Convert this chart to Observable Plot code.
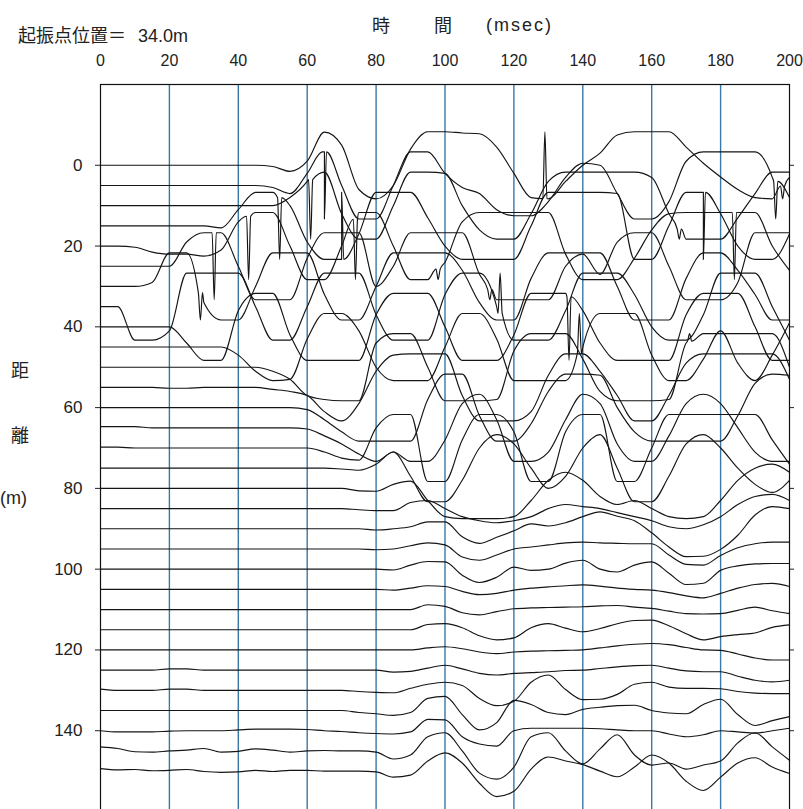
<!DOCTYPE html>
<html><head><meta charset="utf-8">
<script src="https://cdn.jsdelivr.net/npm/d3@7"></script>
<script src="https://cdn.jsdelivr.net/npm/@observablehq/plot@0.6"></script>
<style>
html,body{margin:0;padding:0;background:#fff;overflow:hidden}
#wrap{position:relative;width:803px;height:809px;overflow:hidden;background:#fff}
#wrap svg{position:absolute;left:0;top:0}
.lbl{position:absolute;font-family:"Noto Sans CJK JP",sans-serif;color:#222;white-space:pre;line-height:1;font-size:18px}
.num{font-family:"Liberation Sans","DejaVu Sans",sans-serif}
</style></head><body><div id="wrap"></div>
<script>
// ---- data ----
const xTicks = [0,20,40,60,80,100,120,140,160,180,200];
const gridTimes = [20,40,60,80,100,120,140,160,180];
const yTicks = [0,20,40,60,80,100,120,140];
const offsets = [0,5,10,15,20,25,30,35,40,45,50,55,60,65,70,75,80,85,90,95,100,105,110,115,120,125,130,135,140,145,150];
const sampleTimes = [0,5,10,15,20,25,30,35,40,45,50,55,60,65,70,75,80,85,90,95,100,105,110,115,120,125,130,135,140,145,150,155,160,165,170,175,180,185,190,195,200];

// trace displacements (m, + = downward), one value per sample time
const trace000 = [0,0,0,0,0,0,0,0,0,0, 0.3,1.5,-1,-8.2,-5,6,8.3,5,-4,-8.3, -8.3,-8,-7.8,-4.5,2,8,8.3,4,0,-3, -7.5,-8.3,-8.3,-8.3,-4.5,-0.5,2.9,6,8,8.3,3];
const trace005 = [0,0,0,0,0,0,0,0,0,0, 0.5,2,-3,-8.3,0,8.3,8.3,0,-8.3,-8.3, -3,0.5,2,6,7.5,7.5,4,-2,-5.5,-5, 2,8.3,8.3,4,-6,-8.3,-8.3,-8.3,-8.3,-2,3];
const trace010 = [0,0,0,0,0,0,0,0,0,0, 0,-2,-6,-8.3,2,8.3,8.3,0,-8.3,-8.3, -8,0,6,8.3,8.3,2,-6,-8.3,-8.3,-8.3, -8.3,-8.3,-7,2,8.3,8.3,8.3,3,-3,-8.3,-8.3];
const trace015 = [0,0,0,0,0,0,0,0.5,-4,-8.3, -8.3,-5,4,8.3,8.3,2,-8.3,-8.3,-8.3,-2, 5,8.3,8.3,8.3,8.3,0,-8.3,-8.3,-8.3,-8.3, -8,8.3,8.3,0,-8.3,-8.3,-3,5,8.3,8.3,2];
const trace020 = [0,0,0.3,1.5,2,2,2.5,1,-6,-8.3, -8.3,0,8.3,8.3,0,-8.3,-8.3,0,8.3,8.3, 4,-6,-8.3,-8.3,-8.3,-8.3,-8.3,2,8.3,8.3, 8.3,3,-4,-8,-8.3,-8.3,-8.3,-8.3,-8.3,0,6];
const trace025 = [0,0,0,0,0,-6,-8.3,-8.3,0,8.3, 8.3,8.3,-2,-8.3,-8.3,-8.3,5,0,-8.3,-8.3, -8.3,-8.3,2,8.3,8.3,8.3,8.3,0,-3,2, -6,-8.3,-8.3,0,8.3,8.3,8.3,4,-8.3,-8.3,-8.3];
const trace030 = [0,0,0,-1,-8.3,-8.3,4,8.3,8.3,0, -8.3,-8.3,-8.3,2,8.3,8.3,0,-8.3,-8.3,-8.3, -8.3,-4,4,8.3,8.3,-2,-8.3,-8.3,-8.3,-8.3, 0,8.3,8.3,8.3,-2,-8.3,-8.3,-4,2,8.3,8.3];
const trace035 = [0,0,8.3,8.3,6,-8.3,-8.3,-8.3,-8.3,0, 8.3,8.3,0,-8.3,-8.3,-8.3,2,8.3,8.3,8.3, -3,-8.3,-8.3,0,8.3,8.3,8.3,1,-8.3,-8.3, -8.3,-3,5,8.3,8.3,2,-8.3,-8.3,-8.3,0,8.3];
const trace040 = [0,0,0,0,0,4,8.3,8.3,-4,-8.3, -8.3,2,8.3,8.3,8.3,8.3,-3,-8.3,-8.3,-8.3, 0,8.3,8.3,8.3,2,-8.3,-8.3,-8.3,-4,4, 8.3,8.3,8.3,8.3,-3,-8.3,-8.3,-8.3,0,8.3,8.3];
const trace045 = [0,0,0,0,0,0,0,0,2,6, 8.3,8,-2,-8.3,-8.3,-4,5,8.3,8.3,8.3, 0,-8.3,-8.3,-2,8.3,8.3,8.3,8.3,0,-8.3, -8.3,-8.3,2,8.3,8.3,3,-4,4,8.3,2,-6];
const trace050 = [0,0,0,0,0,0,0,0,0,0, 1,3,7,8,8.3,8.3,-6,-8.3,-8.3,0, 8.3,8.3,8.3,8,-4,-8.3,-8.3,-8.3,-2,6, 8.3,8.3,8.3,8,-6,-8.3,-8.3,-8.3,-8.3,-8.3,0];
const trace055 = [0,0,0,0,0.2,0.2,0,0,0,0, 0.5,1,2,6,8.3,4,-4,-8,-8.3,-8.3, -8.3,2,8.3,8.3,8.3,6,-3,-8.3,-8.3,-4, 2,8.3,8.3,2,-6,-8.3,-8.3,-8.3,-8.3,-8.3,-2];
const trace060 = [0,0,0,0,0,0,0,0,0,0, 0,0,0.5,3,6,8.3,8.3,8.3,8.3,-2, -8.3,-8.3,2,8.3,8.3,4,-4,-8.3,-8.3,-8, 0,6,8.3,8.3,8.3,8.3,8.3,2,-6,-8.3,-8];
const trace065 = [-0.3,-0.3,-0.3,0,0,0,0,0,0,0, 0,0,0.3,2,4,6.5,8.3,6,8.3,8.3, 3,-6,-8.3,-2,8.3,8.3,6,-2,-8.3,-6, 4,8.3,8.3,2,-6,-8.3,-6,0,6,8.3,8.3];
const trace070 = [-0.2,-0.2,0,0,0,0,0,0,0,0, 0,0,0,1,2.5,3,-5,-8.3,-8.3,8.3, 8.3,-2,-8.3,-8.3,-4,8.3,8.3,-4,-8.3,-8.3, 8.3,8.3,0,-8.3,-8.3,-8.3,-8.3,-8.3,-8.3,-2,4];
const trace075 = [0,0,0,0,0,0,0,0,0,0, 0,0,0,0,0.2,0.5,-1,-4,2,8.3, 8.3,3,-5,-8.3,-6,0,5,2,-5,-8.3, 0,8.3,8.3,2,-6,-8.3,-5,0,4,6,3];
const trace080 = [0,0,0,0,0,0,0,0,0,0, 0,0,0,0,0,0.6,0.7,-1,-1.8,3, 7,7.5,7.5,7.5,7,3,-2,-4,-2,2, 4,3,5,7,7.5,7,3,-2,-5,-6,-4];
const trace085 = [0,0,0,0,0,0,0,0,0,0, 0,0,0,0,0,0.3,0.5,0.5,-1.5,-2, 0,2,3,3.5,3,2,0,-1,-0.5,0, 1,2,3,4.5,5,4,2,-1,-3,-3.5,-2];
const trace090 = [0,0,0,0,0,0,0,0,0,0, 0,0,0,0,0,0,0.3,0,-0.5,-1.7, -1.7,2,3.6,2.1,0.5,-1.2,-0.7,-1.5,-3,-4.2, -3.1,-2,1,4.5,6.9,6.8,5.1,1.6,-3.4,-5.5,-5];
const trace095 = [0,0,0,0,0,0,0,0,0,0, 0,0,0,0,0,0,0.2,0,-0.8,-1.5, -1,2,2.8,1.5,0,-0.5,-1,-1.5,-1.7,-1.5, -1.4,-1.3,-1.3,1.5,3.8,4,1.6,-0.3,-1.3,-1.7,-1.7];
const trace100 = [0,0,0,0,0,0,0,0,0,0, 0,0,0,0,0,0,0,0.2,-1,-1.9, -1.8,1.5,3.3,2,-0.5,0.3,0,-1.5,-2.2,0, 0.7,-1,-1.8,1,3.8,3.5,0.3,-0.8,-1.3,-1.4,-1.4];
const trace105 = [0,0,0,0,0,0,0,0,0,0, 0,0,0,0,0,0,0,0.2,-0.3,-0.9, -0.7,0.5,1.3,1,0.2,-0.3,-0.6,-0.9,-1.1,-0.8, -0.3,0,0.2,0.8,1.6,2.1,1,-0.3,-1.2,-1.5,-0.7];
const trace110 = [0,0,0,0,0,0,0,0,0,0, 0,0,0,0,0,0,0,0,0,-1.2, -0.8,0.8,1.3,0.5,-0.2,-0.4,-0.5,-0.6,-0.7,-0.9, -1,-0.6,-0.3,0.4,1,1.1,1,0.2,-0.6,0.3,1];
const trace115 = [0,0,0,0,0,0,0,0,0,0, 0,0,0,0,0,0,0,0,0,-1.3, -1.5,-0.5,1.5,2.5,2,-0.5,-1.5,-0.4,0.5,-0.3, -1.5,-2.3,-2.4,-1,1,2.5,1.7,1.2,0.8,-0.6,-1.2];
const trace120 = [0,0,0,0,0,0,0,0,0,0, 0,0,0,0,0,0,0,0,0,-0.5, -0.8,-0.3,0.5,0.9,0.5,0.3,0.2,0.1,0,-0.5, -1,-1.4,-1.6,-1.3,-0.6,0,0.1,1,2,2.5,2.5];
const trace125 = [0,0,0,0,-0.3,-0.3,0,0,0,0, 0,0,0,0,0,0,0,0.5,0.3,-0.5, -1.2,-0.3,0.8,1.2,0.8,0.6,0.4,0.1,0,-0.4, -0.8,-1.1,-1.2,-0.5,0.2,0.4,0.4,1.5,2.5,2.9,2.5];
const trace130 = [-0.3,0,0,0,-0.3,-0.3,0,0,0,0, 0,0,0,0,0,0.3,0.5,0.6,-0.5,-1.5, -2,-1.2,2,3.8,2.7,-2,-3.8,-0.2,2.3,2.2, 1,-1.5,-2,-0.8,-0.5,-0.5,-0.4,0.3,0.7,0.8,0.8];
const trace135 = [0,0,0,0,0,0,0,0,0,0, 0,0,0,0,0,0.5,0.8,1.2,0.5,-3, -3.5,1,4.8,3,-2.5,-1.5,0.5,1,-0.3,-0.8, -1.2,-1.3,0,0.6,0.8,-1.5,-2.8,1,3.7,2.5,1.5];
const trace140 = [0,0.3,0.3,0.3,0.1,0,0,0,-0.2,-0.4, -0.4,-0.4,-0.3,0,0.2,0.5,0.7,0.8,0.3,-2.8, -2.7,1.5,3.3,3.8,0,-0.6,-0.6,-0.6,-0.6,-0.5, -0.2,0,0,0.8,1.5,1,0,0.3,0.6,0,-0.6];
const trace145 = [-1,-0.6,0.2,0.3,0,-0.2,-0.6,0.3,0.1,-0.5, -0.2,0.3,0,-0.1,0,0,0.3,2,1,-3.5, -4.5,0,5.5,7,4,-3.5,-4.5,0,3.2,-0.5, -4,1,3.5,3,4.5,3.5,2.5,-2,-4.5,-1,2.3];
const trace150 = [-0.6,-0.3,-0.4,-0.1,-0.2,-0.4,0.1,0.3,0.2,-0.2, 0.1,-0.2,-0.2,0,0,0,0.2,1.5,1,-2.5, -4.5,-2,3,6.3,5,-0.5,-3.5,-2.5,-1.6,0, 1.4,-1,-4,-2,2.5,4.8,1.5,-2,-3.3,-1,0.6];

// narrow spikes: [trace offset (m), time (ms), displacement (m)]
const spikes = [
  [0,129,-8.3],[30,29,8.3],[25,33,8.3],[20,43,8.3],[25,46,8.3],[15,52,8.3],
  [10,61,8.3],[5,65,8.3],[15,70,-8.3],[20,74,8.3],[30,90,-8.3],[35,94,8.3],
  [20,98,8.3],[25,113,8.3],[35,116,-8.3],[40,136,8.3],[45,139,-8.3],[10,168,8.3],
  [50,171,-8.3],[15,175,8.3],[55,180,-8.3],[20,184,8.3],[5,196,8.3],[0,198,8.3]
];

const traceAmps = [trace000,trace005,trace010,trace015,trace020,trace025,trace030,trace035,trace040,trace045,
  trace050,trace055,trace060,trace065,trace070,trace075,trace080,trace085,trace090,trace095,
  trace100,trace105,trace110,trace115,trace120,trace125,trace130,trace135,trace140,trace145,trace150];

// ---- build table ----
const rows = [];
offsets.forEach((off, k) => {
  const amps = traceAmps[k];
  const pts = sampleTimes.map((t, i) => ({t, a: amps[i]}));
  spikes.filter(s => s[0] === off).forEach(([, ts, a]) => {
    const i = Math.min(Math.floor(ts / 5), sampleTimes.length - 2);
    const f = (ts - sampleTimes[i]) / (sampleTimes[i + 1] - sampleTimes[i]);
    const v = amps[i] + (amps[i + 1] - amps[i]) * f;
    pts.push({t: ts - 0.6, a: v}, {t: ts, a}, {t: ts + 0.6, a: v});
  });
  pts.sort((p, q) => p.t - q.t);
  pts.forEach(p => rows.push({trace: off, t: p.t, y: off + p.a}));
});

const numFont = '"Liberation Sans","DejaVu Sans",sans-serif';

const chart = Plot.plot({
  width: 803, height: 812,
  marginTop: 84, marginLeft: 100, marginRight: 14, marginBottom: 1,
  style: {fontFamily: numFont, fontSize: "17px", color: "#222", background: "transparent"},
  x: {domain: [0, 200], axis: null},
  y: {domain: [-20, 160], reverse: true, axis: null},
  marks: [
    Plot.ruleX(gridTimes, {stroke: "#3a78a6", strokeWidth: 1.4}),
    Plot.line(rows, {x: "t", y: "y", z: "trace", curve: "monotone-x", stroke: "#151515", strokeWidth: 1.15}),
    Plot.frame({stroke: "#111", strokeWidth: 1.2}),
    Plot.axisX(xTicks, {anchor: "top", tickSize: 0, tickPadding: 19, label: null, fontSize: 16}),
    Plot.axisY(yTicks, {anchor: "left", tickSize: 5, tickPadding: 13, label: null, fontSize: 17}),
    Plot.axisY(yTicks, {anchor: "right", tickSize: 4, tickFormat: () => "", label: null})
  ]
});

const wrap = document.getElementById("wrap");
wrap.appendChild(chart);

function addLabel(text, left, top, cls) {
  const d = document.createElement("div");
  d.className = "lbl" + (cls ? " " + cls : "");
  d.textContent = text;
  d.style.left = left + "px";
  d.style.top = top + "px";
  wrap.appendChild(d);
  return d;
}
addLabel("起振点位置＝", 18, 25);
addLabel("34.0m", 138, 27, "num");
addLabel("時", 372, 15);
addLabel("間", 434, 15);
const ms = addLabel("(msec)", 486, 16, "num");
ms.style.letterSpacing = "2px";
addLabel("距", 11, 360);
addLabel("離", 11, 425);
addLabel("(m)", 0, 489, "num");
</script></body></html>
